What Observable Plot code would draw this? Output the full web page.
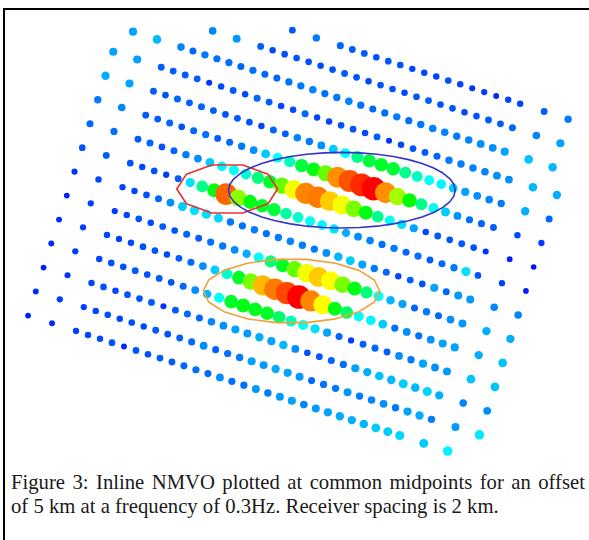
<!DOCTYPE html>
<html>
<head>
<meta charset="utf-8">
<script src="https://cdn.jsdelivr.net/npm/d3@7"></script>
<script src="https://cdn.jsdelivr.net/npm/@observablehq/plot@0.6"></script>
<style>
  html, body { margin: 0; padding: 0; background: #fff; overflow: hidden; }
  #figure { position: relative; width: 589px; height: 540px; }
  #frame { position: absolute; left: 3px; top: 8px; width: 700px; height: 700px;
           border-top: 2px solid #000; border-left: 2px solid #000; box-sizing: border-box; }
  #chart { position: absolute; left: 0; top: 0; }
  #caption { position: absolute; left: 11px; top: 470px; width: 574px;
             font-family: "Liberation Serif", "Times New Roman", serif; font-size: 20.7px;
             line-height: 24px; color: #1a1a1a; }
  #caption .justified { text-align: justify; text-align-last: justify; }
</style>
</head>
<body>
<div id="figure">
  <div id="frame"></div>
  <div id="chart"></div>
  <div id="caption">
    <div class="justified">Figure 3: Inline NMVO plotted at common midpoints for an offset</div>
    <div>of 5 km at a frequency of 0.3Hz. Receiver spacing is 2 km.</div>
  </div>
</div>
<script>
// Inline NMVO amplitude (0-100) at each common midpoint, in order along each inline
const inline00 = [9, 12, 10, 9, 9, 8, 8, 8, 7, 7, 7, 8, 7, 5, 6, 4, 7, 7, 9, 12];
const inline01 = [13, 15, 9, 7, 8, 8, 8, 7, 8, 9, 8, 7, 8, 8, 7, 8, 9, 8, 8, 7, 8, 9, 9, 10, 13, 16];
const inline02 = [16, 18, 13, 10, 12, 11, 11, 10, 11, 10, 10, 11, 12, 13, 11, 12, 13, 11, 10, 11, 12, 11, 12, 13, 13, 12, 13, 14, 14, 16, 19, 18];
const inline03 = [16, 16, 9, 9, 9, 9, 5, 7, 9, 7, 10, 9, 7, 7, 10, 7, 7, 8, 8, 7, 9, 5, 7, 8, 9, 10, 12, 12, 13, 13, 14, 14, 18, 17];
const inline04 = [17, 16, 9, 8, 10, 9, 10, 9, 8, 9, 8, 7, 10, 9, 13, 12, 14, 20, 26, 37, 44, 46, 45, 36, 31, 26, 24, 20, 16, 14, 13, 12, 17, 10];
const inline05 = [12, 13, 9, 9, 10, 8, 10, 11, 9, 10, 12, 14, 20, 25, 32, 44, 48, 60, 86, 92, 96, 100, 86, 66, 50, 36, 27, 20, 14, 11, 10, 9, 7, 6];
const inline06 = [10, 11, 9, 10, 8, 10, 12, 14, 20, 24, 26, 30, 38, 46, 60, 74, 87, 88, 80, 74, 62, 48, 36, 26, 22, 16, 7, 9, 8, 9, 8, 5, 3, 2];
const inline07 = [8, 9, 8, 7, 8, 6, 9, 22, 36, 48, 90, 64, 48, 46, 44, 34, 30, 26, 24, 22, 17, 14, 13, 11, 12, 10, 11, 9, 10, 12, 22, 8, 6, 3];
const inline08 = [5, 7, 6, 7, 8, 10, 14, 20, 22, 22, 21, 12, 11, 12, 11, 12, 13, 12, 12, 14, 18, 20, 16, 12, 10, 7, 9, 8, 16, 10, 15, 15, 13, 13];
const inline09 = [3, 6, 6, 7, 8, 7, 9, 8, 10, 9, 11, 12, 14, 17, 26, 38, 46, 60, 74, 80, 75, 62, 48, 38, 26, 18, 16, 10, 12, 10, 14, 15, 17, 17];
const inline10 = [4, 6, 7, 6, 7, 8, 8, 7, 9, 10, 14, 20, 30, 46, 62, 82, 88, 93, 100, 87, 75, 48, 40, 26, 24, 20, 11, 14, 11, 14, 16, 16, 17, 19];
const inline11 = [4, 6, 7, 8, 8, 9, 8, 9, 8, 10, 14, 18, 26, 46, 48, 47, 46, 40, 32, 26, 22, 16, 10, 6, 9, 10, 9, 14, 12, 16, 14, 15, 19, 19];
const inline12 = [3, 5, 7, 8, 7, 8, 8, 9, 5, 9, 10, 10, 13, 14, 16, 15, 17, 16, 18, 14, 8, 9, 10, 11, 16, 17, 19, 18, 20, 18, 21, 17, 13, 14];
const inline13 = [4, 6, 6, 7, 8, 7, 8, 7, 9, 8, 9, 10, 14, 10, 11, 12, 16, 15, 17, 16, 15, 10, 11, 12, 15, 12, 13, 14, 12, 16, 17, 12, 15, 23];
const inline14 = [3, 4, 6, 7, 7, 8, 4, 8, 8, 9, 9, 10, 11, 10, 14, 11, 11, 15, 12, 15, 16, 13, 15, 16, 17, 17, 18, 20, 20, 21, 20, 24];

// First and last midpoint of each inline, km along the line
const lineFirst = [13, 7, 1, 0, 0, 0, 0, 0, 0, 0, 0, 0, 0, 0, 0];
const lineLast  = [36, 36, 36, 37, 37, 37, 37, 37, 37, 37, 37, 37, 37, 37, 35];

// Highlighted zones: centre (km east, km north), semi-axes (km), outline colour
const zoneColor = ["#ec2f33", "#3434c8", "#f0a23a"];
const zoneEast  = [7.2, 16.3, 12.3];
const zoneNorth = [-16.6, -16.7, -24.7];
const zoneA     = [4.0, 9.0, 7.0];
const zoneB     = [2.0, 3.0, 2.55];
const zoneSides = [10, 40, 18];

// Survey geometry
const inlineSpacing = 2;   // km between inlines
const inlineDip = 17.9;    // degrees, inline direction measured clockwise from east

const inlines = [inline00, inline01, inline02, inline03, inline04, inline05, inline06, inline07,
                 inline08, inline09, inline10, inline11, inline12, inline13, inline14];

// Midpoints every 1 km, thinning to every 2 km over the two outermost positions at each end
function midpointPositions(first, last) {
  const s = [first, first + 2];
  for (let u = first + 4; u <= last - 4; u++) s.push(u);
  s.push(last - 2, last);
  return s;
}

const rad = inlineDip * Math.PI / 180;
const cosA = Math.cos(rad), sinA = Math.sin(rad);
const midpoints = [];
inlines.forEach((amps, k) => {
  const pos = midpointPositions(lineFirst[k], lineLast[k]);
  if (pos.length !== amps.length) console.warn("inline", k, pos.length, amps.length);
  pos.forEach((u, i) => {
    const cross = k * inlineSpacing;
    midpoints.push({
      line: k,
      east: u * cosA - cross * sinA,
      north: -(u * sinA + cross * cosA),
      amp: amps[i]
    });
  });
});

function zoneOutline(z) {
  const pts = [];
  for (let i = 0; i <= zoneSides[z]; i++) {
    const t = (2 * Math.PI * i) / zoneSides[z];
    pts.push({east: zoneEast[z] + zoneA[z] * Math.cos(t), north: zoneNorth[z] + zoneB[z] * Math.sin(t)});
  }
  return pts;
}

const width = 589, height = 470;
const pxPerKm = 12.6;
const originX = 136, originY = -20.7; // pixel position of the survey origin

const chart = Plot.plot({
  width, height,
  margin: 0,
  style: {background: "transparent", overflow: "visible"},
  x: {domain: [-originX / pxPerKm, (width - originX) / pxPerKm], axis: null},
  y: {domain: [(originY - height) / pxPerKm, originY / pxPerKm], axis: null},
  color: {type: "linear", domain: [0, 25, 50, 75, 100],
          range: ["#0000ff", "#00ffff", "#00ff00", "#ffff00", "#ff0000"], interpolate: "rgb"},
  r: {type: "linear", domain: [0, 100], range: [2.6, 11.8]},
  marks: [
    Plot.dot(midpoints, {x: "east", y: "north", r: "amp", fill: "amp", sort: null}),
    ...zoneColor.map((col, z) =>
      Plot.line(zoneOutline(z), {x: "east", y: "north", stroke: col, strokeWidth: 1.6, curve: "linear"}))
  ]
});
document.getElementById("chart").appendChild(chart);
</script>
</body>
</html>
